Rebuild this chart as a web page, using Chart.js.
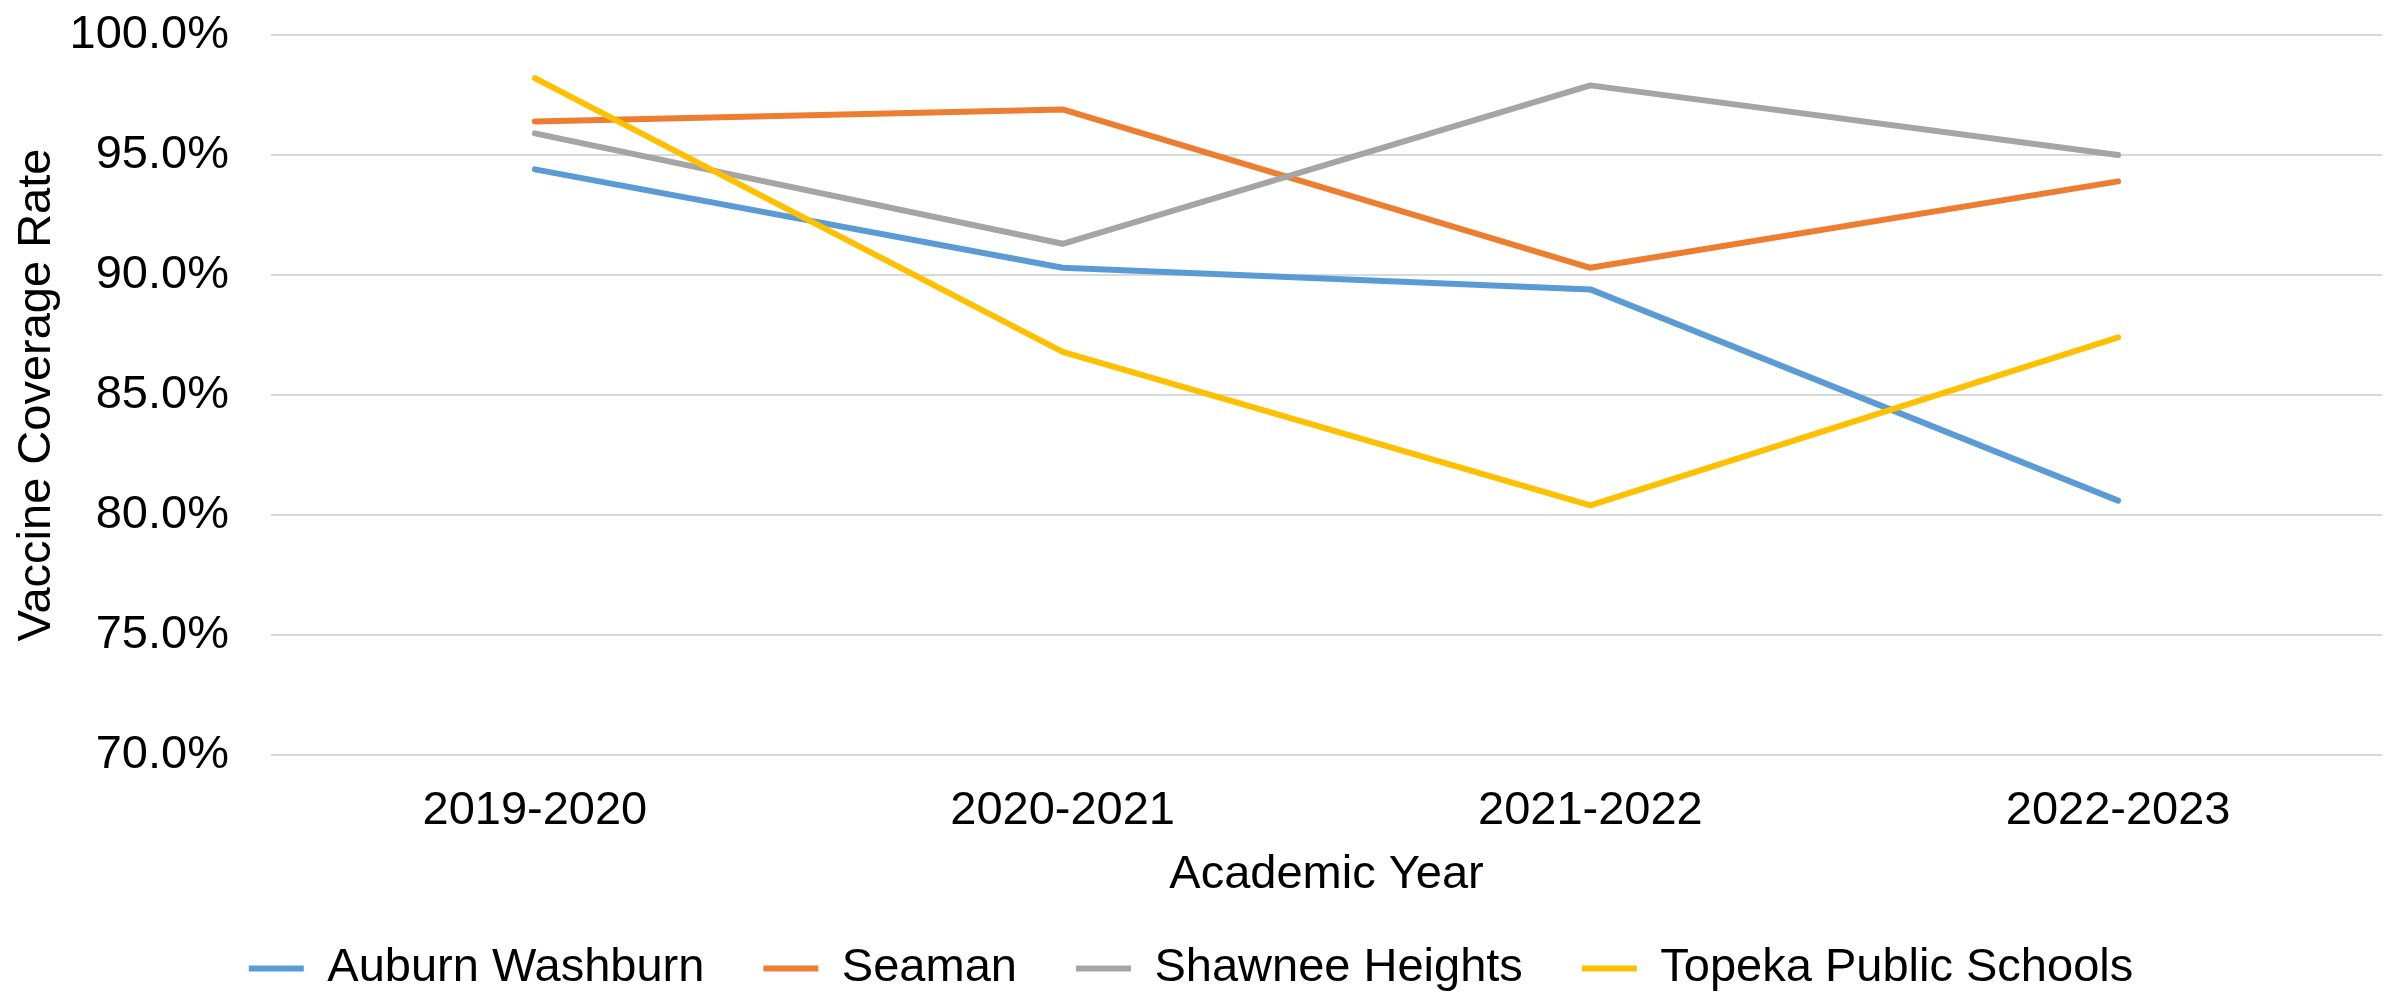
<!DOCTYPE html>
<html>
<head>
<meta charset="utf-8">
<title>Vaccine Coverage Rate by Academic Year</title>
<script src="https://cdn.jsdelivr.net/npm/chart.js@4.4.1/dist/chart.umd.min.js"></script>
<style>
  html, body { margin: 0; padding: 0; background: #fff; }
  #wrap { width: 2394px; height: 1002px; }
</style>
</head>
<body>
<div id="wrap"><canvas id="chart" width="2394" height="1002"></canvas></div>
<script>
/* data (percent) */
const years = ['2019-2020', '2020-2021', '2021-2022', '2022-2023'];
const auburnWashburn = [94.4, 90.3, 89.4, 80.6];
const seaman = [96.4, 96.9, 90.3, 93.9];
const shawneeHeights = [95.9, 91.3, 97.9, 95.0];
const topekaPublic = [98.2, 86.8, 80.4, 87.4];
const seriesNames = ['Auburn Washburn', 'Seaman', 'Shawnee Heights', 'Topeka Public Schools'];
const seriesColors = ['#5B9BD5', '#ED7D31', '#A5A5A5', '#FFC000'];
const yTicks = [70, 75, 80, 85, 90, 95, 100];

const FONT = 'Liberation Sans, Arial, sans-serif';
Chart.defaults.font.family = FONT;
Chart.defaults.font.size = 47;
Chart.defaults.color = '#000';

const seriesValues = [auburnWashburn, seaman, shawneeHeights, topekaPublic];

const datasets = seriesValues.map((vals, i) => ({
  label: seriesNames[i],
  data: vals,
  borderColor: seriesColors[i],
  backgroundColor: seriesColors[i],
  borderWidth: 6,
  borderCapStyle: 'round',
  borderJoinStyle: 'round',
  pointRadius: 0,
  pointHoverRadius: 0,
  tension: 0,
  fill: false,
  order: seriesValues.length - i   // later series drawn on top, like Excel
}));

new Chart(document.getElementById('chart'), {
  type: 'line',
  data: { labels: years, datasets },
  options: {
    responsive: false,
    animation: false,
    layout: { padding: { left: 0, right: 12, top: 35, bottom: 0 } },
    plugins: {
      tooltip: { enabled: false },
      legend: {
        position: 'bottom',
        labels: {
          usePointStyle: true,
          pointStyle: 'line',
          pointStyleWidth: 55,
          padding: 59,
          font: { size: 47 },
          color: '#000',
          sort: (a, b) => a.datasetIndex - b.datasetIndex
        }
      }
    },
    scales: {
      x: {
        offset: true,
        grid: { display: false, drawTicks: false },
        border: { display: false },
        ticks: { padding: 28, font: { size: 47 }, color: '#000' },
        title: {
          display: true,
          text: 'Academic Year',
          font: { size: 47 },
          color: '#000',
          padding: { top: 0, bottom: -17 }
        },
        afterFit: (scale) => { scale.height = 131; }
      },
      y: {
        min: 70,
        max: 100,
        afterBuildTicks: (scale) => { scale.ticks = yTicks.map(v => ({ value: v })); },
        grid: { color: '#D9D9D9', lineWidth: 2, drawTicks: false },
        border: { display: false },
        ticks: {
          padding: 42,
          font: { size: 47 },
          color: '#000',
          callback: (v) => Number(v).toFixed(1) + '%'
        },
        title: {
          display: true,
          text: 'Vaccine Coverage Rate',
          font: { size: 47 },
          color: '#000',
          padding: { top: 9, bottom: 0 }
        },
        afterFit: (scale) => {
          scale.width = 271;
          scale.paddingTop = 0;
          scale.paddingBottom = 0;
        }
      }
    }
  }
});
</script>
</body>
</html>
